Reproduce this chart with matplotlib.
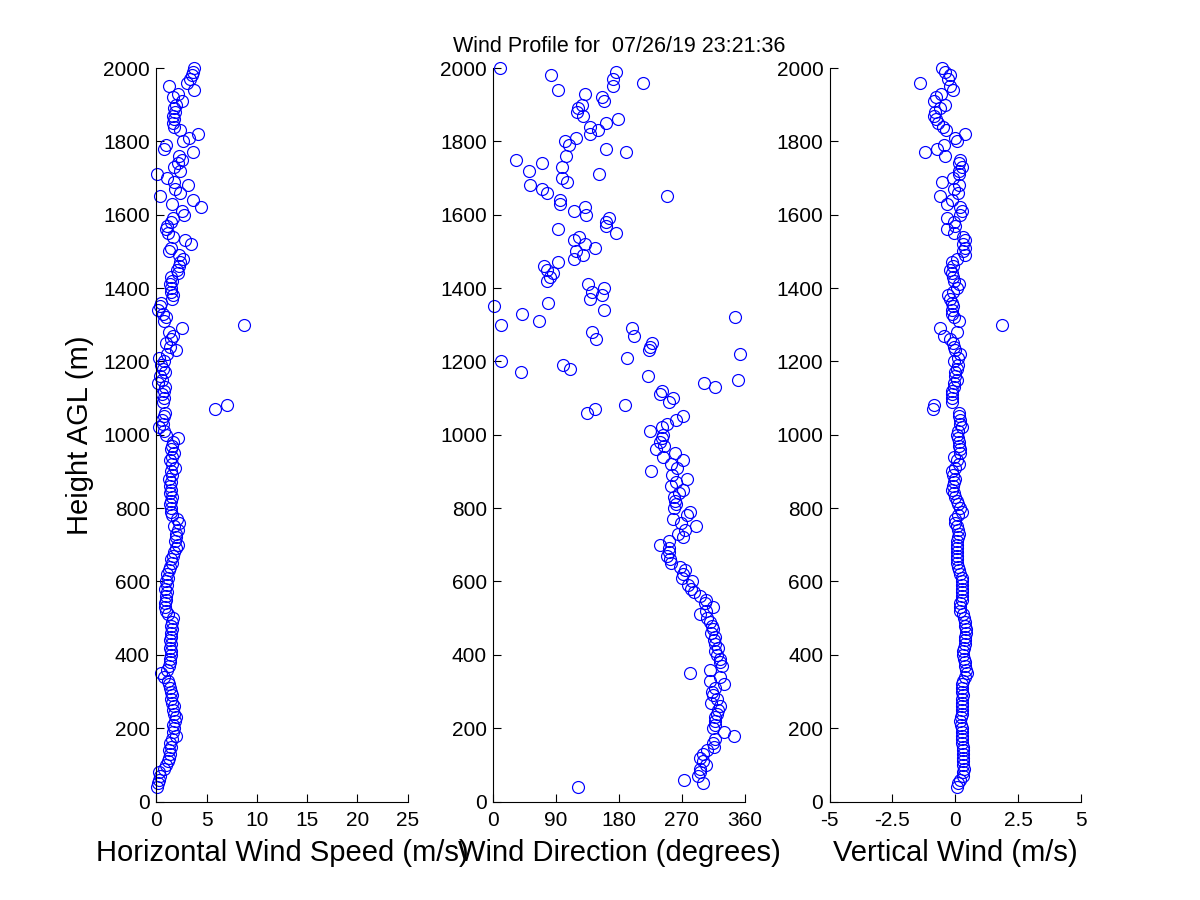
import matplotlib
matplotlib.use("Agg")
import matplotlib.pyplot as plt

plt.rcParams['font.family'] = ['Liberation Sans', 'DejaVu Sans']

title_text = "Wind Profile for  07/26/19 23:21:36"

height_m = [
    40, 50, 60, 70, 80, 90,
    100, 110, 120, 130, 140, 150, 160, 170, 180, 190,
    200, 210, 220, 230, 240, 250, 260, 270, 280, 290,
    300, 310, 320, 330, 340, 350, 360, 370, 380, 390,
    400, 410, 420, 430, 440, 450, 460, 470, 480, 490,
    500, 510, 520, 530, 540, 550, 560, 570, 580, 590,
    600, 610, 620, 630, 640, 650, 660, 670, 680, 690,
    700, 710, 720, 730, 740, 750, 760, 770, 780, 790,
    800, 810, 820, 830, 840, 850, 860, 870, 880, 890,
    900, 910, 920, 930, 940, 950, 960, 970, 980, 990,
    1000, 1010, 1020, 1030, 1040, 1050, 1060, 1070, 1080, 1090,
    1100, 1110, 1120, 1130, 1140, 1150, 1160, 1170, 1180, 1190,
    1200, 1210, 1220, 1230, 1240, 1250, 1260, 1270, 1280, 1290,
    1300, 1310, 1320, 1330, 1340, 1350, 1360, 1370, 1380, 1390,
    1400, 1410, 1420, 1430, 1440, 1450, 1460, 1470, 1480, 1490,
    1500, 1510, 1520, 1530, 1540, 1550, 1560, 1570, 1580, 1590,
    1600, 1610, 1620, 1630, 1640, 1650, 1660, 1670, 1680, 1690,
    1700, 1710, 1720, 1730, 1740, 1750, 1760, 1770, 1780, 1790,
    1800, 1810, 1820, 1830, 1840, 1850, 1860, 1870, 1880, 1890,
    1900, 1910, 1920, 1930, 1940, 1950, 1960, 1970, 1980, 1990,
    2000,
]

speed_ms = [
    0.1, 0.2, 0.3, 0.4, 0.3, 0.8,
    1.0, 1.2, 1.3, 1.4, 1.3, 1.5, 1.4, 1.6, 2.0, 1.7,
    1.8, 1.7, 1.9, 2.0, 1.8, 1.7, 1.8, 1.6, 1.5, 1.6,
    1.5, 1.4, 1.3, 1.2, 0.8, 0.5, 1.1, 1.3, 1.4, 1.4,
    1.5, 1.5, 1.4, 1.5, 1.4, 1.5, 1.5, 1.6, 1.5, 1.6,
    1.7, 1.2, 1.0, 0.9, 0.9, 1.0, 1.0, 1.1, 0.9, 1.1,
    1.0, 1.2, 1.1, 1.3, 1.4, 1.6, 1.5, 1.7, 1.8, 2.0,
    2.2, 1.9, 2.0, 2.0, 2.2, 1.8, 2.3, 2.1, 1.6, 1.5,
    1.5, 1.4, 1.5, 1.6, 1.4, 1.5, 1.4, 1.5, 1.3, 1.6,
    1.5, 1.9, 1.6, 1.4, 1.6, 1.8, 1.5, 1.6, 1.7, 2.2,
    1.0, 0.8, 0.3, 0.7, 0.6, 0.8, 0.9, 5.8, 7.0, 0.7,
    0.8, 0.6, 0.8, 0.9, 0.2, 0.6, 0.4, 0.9, 0.7, 0.5,
    0.8, 0.3, 1.1, 2.0, 1.4, 1.0, 1.5, 1.7, 1.3, 2.5,
    8.7, 0.8, 1.0, 0.7, 0.2, 0.4, 0.5, 1.6, 1.7, 1.5,
    1.5, 1.4, 1.6, 1.5, 2.2, 2.1, 2.3, 2.4, 2.6, 2.3,
    1.3, 1.5, 3.4, 2.8, 1.7, 1.2, 1.0, 1.1, 1.5, 1.7,
    2.7, 2.5, 4.4, 1.6, 3.6, 0.4, 2.4, 1.9, 3.1, 1.8,
    1.1, 0.1, 2.4, 1.8, 2.2, 2.5, 2.3, 3.6, 0.8, 1.0,
    2.6, 3.2, 4.1, 2.4, 1.8, 1.7, 1.8, 1.7, 1.9, 1.8,
    2.0, 2.5, 1.7, 2.2, 3.7, 1.3, 3.0, 3.3, 3.5, 3.6,
    3.7,
]

direction_deg = [
    121, 300, 273, 293, 296, 296,
    305, 300, 296, 300, 306, 316, 315, 318, 344, 330,
    315, 317, 318, 317, 320, 322, 324, 312, 320, 315,
    313, 318, 330, 310, 324, 282, 310, 327, 325, 324,
    320, 317, 322, 318, 316, 318, 312, 315, 313, 310,
    306, 296, 305, 314, 303, 305, 296, 287, 283, 279,
    284, 270, 272, 275, 268, 254, 253, 248, 251, 252,
    239, 251, 272, 264, 274, 290, 269, 257, 277, 281,
    259, 262, 260, 259, 266, 271, 254, 262, 278, 256,
    226, 263, 254, 271, 243, 260, 233, 245, 239, 241,
    243, 224, 241, 248, 261, 272, 134, 145, 189, 251,
    257, 238, 241, 318, 301, 351, 222, 40, 110, 100,
    11, 192, 353, 223, 224, 227, 147, 202, 142, 198,
    11, 65, 346, 41, 159, 1, 78, 139, 156, 142,
    158, 135, 77, 81, 85, 77, 73, 92, 116, 128,
    118, 146, 131, 116, 123, 175, 93, 161, 162, 165,
    132, 116, 131, 96, 96, 248, 77, 69, 52, 106,
    98, 151, 51, 98, 69, 33, 104, 190, 162, 109,
    102, 119, 139, 150, 139, 162, 179, 129, 120, 121,
    127, 159, 156, 131, 92, 171, 215, 172, 82, 175,
    9,
]

vertical_ms = [
    0.06, 0.1, 0.2, 0.3, 0.32, 0.35,
    0.32, 0.3, 0.32, 0.32, 0.3, 0.3, 0.28, 0.26, 0.25, 0.25,
    0.26, 0.22, 0.2, 0.22, 0.25, 0.28, 0.26, 0.26, 0.28, 0.3,
    0.26, 0.28, 0.26, 0.3, 0.4, 0.45, 0.42, 0.4, 0.38, 0.35,
    0.3, 0.32, 0.35, 0.39, 0.39, 0.4, 0.42, 0.42, 0.39, 0.39,
    0.35, 0.3, 0.2, 0.19, 0.2, 0.25, 0.26, 0.26, 0.26, 0.26,
    0.26, 0.26, 0.2, 0.13, 0.1, 0.05, 0.06, 0.06, 0.05, 0.06,
    0.06, 0.05, 0.1, 0.13, 0.1, 0.05, 0.0, 0.0, 0.1, 0.26,
    0.2, 0.1, 0.06, 0.0, -0.05, -0.14, -0.1, -0.05, 0.0, -0.1,
    -0.14, 0.0, 0.13, 0.05, -0.06, 0.2, 0.19, 0.15, 0.13, 0.1,
    0.06, 0.1, 0.26, 0.2, 0.19, 0.15, 0.13, -0.87, -0.83, -0.14,
    -0.14, -0.14, -0.14, -0.06, -0.05, 0.05, 0.0, 0.0, 0.06, 0.1,
    -0.06, 0.1, 0.19, 0.0, -0.06, -0.1, -0.2, -0.46, 0.06, -0.6,
    1.85, 0.13, -0.05, -0.14, -0.14, -0.1, -0.14, -0.2, -0.27, -0.1,
    0.05, 0.13, -0.06, -0.1, -0.14, -0.21, -0.1, -0.14, 0.06, 0.4,
    0.32, 0.39, 0.3, 0.39, 0.32, -0.06, -0.34, 0.0, -0.06, -0.34,
    0.19, 0.26, 0.19, -0.34, -0.14, -0.6, 0.1, -0.06, 0.13, -0.54,
    -0.1, 0.15, 0.13, 0.26, 0.13, 0.19, -0.4, -1.2, -0.73, -0.46,
    0.06, 0.0, 0.37, -0.38, -0.5, -0.7, -0.75, -0.85, -0.8, -0.6,
    -0.4, -0.85, -0.75, -0.55, -0.1, -0.2, -1.4, -0.3, -0.2, -0.4,
    -0.54,
]

y_ticks = [0, 200, 400, 600, 800, 1000, 1200, 1400, 1600, 1800, 2000]
speed_ticks = [0, 5, 10, 15, 20, 25]
dir_ticks = [0, 90, 180, 270, 360]
vert_ticks = [-5, -2.5, 0, 2.5, 5]
vert_tick_labels = ["-5", "-2.5", "0", "2.5", "5"]

xlabels = ["Horizontal Wind Speed (m/s)", "Wind Direction (degrees)", "Vertical Wind (m/s)"]
ylabel = "Height AGL (m)"

fig = plt.figure(figsize=(12, 9), dpi=100)
lefts = [0.1303, 0.4111, 0.6913]
width = 0.2095
bottom = 0.1094
height = 0.815

series = [speed_ms, direction_deg, vertical_ms]
xlims = [(0, 25), (0, 360), (-5, 5)]
xticks = [speed_ticks, dir_ticks, vert_ticks]

TICK_FS = 15
LABEL_FS = 21
TITLE_FS = 15.5

axes = []
for i in range(3):
    ax = fig.add_axes([lefts[i], bottom, width, height])
    ax.plot(series[i], height_m, linestyle='none', marker='o', markersize=8.6,
            markerfacecolor='none', markeredgecolor='#0000ff', markeredgewidth=0.85,
            clip_on=False)
    ax.set_xlim(*xlims[i])
    ax.set_ylim(0, 2000)
    ax.set_xticks(xticks[i])
    if i == 2:
        ax.set_xticklabels(vert_tick_labels)
    ax.set_yticks(y_ticks)
    for s in ['top', 'right']:
        ax.spines[s].set_visible(False)
    for s in ['left', 'bottom']:
        ax.spines[s].set_linewidth(0.8)
    ax.tick_params(axis='both', direction='in', length=6, width=0.8,
                   labelsize=TICK_FS, colors='black')
    ax.tick_params(axis='x', pad=6.5)
    ax.tick_params(axis='y', pad=4.5)
    ax.set_xlabel(xlabels[i], fontsize=LABEL_FS, labelpad=6.5)
    axes.append(ax)

axes[0].set_ylabel(ylabel, fontsize=LABEL_FS, labelpad=6.5)
axes[1].set_title(title_text, fontsize=TITLE_FS, pad=11.5)

fig.savefig("out.png", dpi=100, facecolor='white')
